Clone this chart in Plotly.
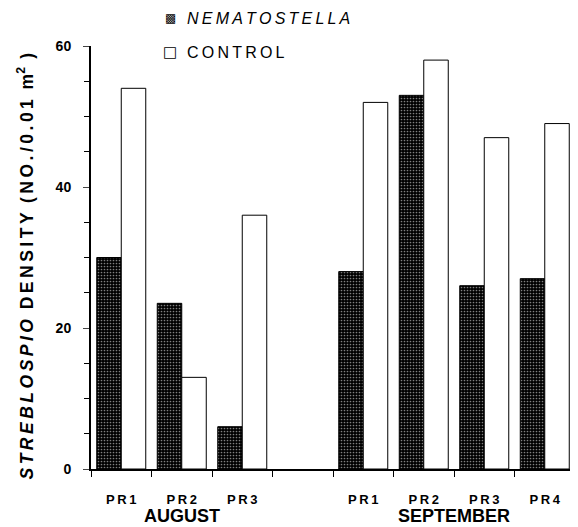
import plotly.graph_objects as go

# Data
site_labels = ["PR1", "PR2", "PR3", "", "PR1", "PR2", "PR3", "PR4"]
positions = [0, 1, 2, 3, 4, 5, 6, 7]
nematostella = [30, 23.5, 6, None, 28, 53, 26, 27]
control = [54, 13, 36, None, 52, 58, 47, 49]
months = ["AUGUST", "SEPTEMBER"]
month_centers = [1, 5.5]
y_ticks = [0, 20, 40, 60]

TS = "\u2009"  # thin space used as letter spacing


def spaced(s):
    return TS.join(list(s))


fig = go.Figure()
fig.add_trace(go.Bar(
    x=positions, y=nematostella, name="NEMATOSTELLA",
    marker=dict(color="black", line=dict(color="black", width=1),
                pattern=dict(shape=".", fgcolor="white", bgcolor="black",
                             size=3, solidity=0.25)),
    showlegend=False,
))
fig.add_trace(go.Bar(
    x=positions, y=control, name="CONTROL",
    marker=dict(color="white", line=dict(color="black", width=1)),
    showlegend=False,
))

fig.update_layout(
    width=570, height=519,
    margin=dict(l=83, r=3, t=38, b=58),
    paper_bgcolor="white", plot_bgcolor="white",
    barmode="group", bargap=0.19, bargroupgap=0,
    font=dict(family="Liberation Sans", color="black"),
)
tv = [p for p, l in zip(positions, site_labels) if l]
tt = [spaced(l) for l in site_labels if l]
fig.update_xaxes(
    range=[-0.5, 7.5], tickvals=tv, ticktext=tt,
    ticks="outside", ticklen=0, ticklabelstandoff=18, showgrid=False, zeroline=False,
    showline=True, linecolor="black", linewidth=1.5,
    tickfont=dict(size=13, family="Liberation Sans", color="black", weight="bold"),
    minor=dict(tick0=-0.5, dtick=1, ticks="outside", ticklen=6, tickcolor="black", tickwidth=1),
)
fig.update_yaxes(
    range=[0, 60], tickvals=y_ticks, ticks="outside", ticklen=6, ticklabelstandoff=9,
    showgrid=False, zeroline=False, showline=True, linecolor="black", linewidth=2,
    tickfont=dict(size=14, family="Liberation Sans", color="black", weight="bold"),
    minor=dict(dtick=5, ticks="outside", ticklen=5, tickcolor="black"),
)

for m, c in zip(months, month_centers):
    fig.add_annotation(x=c, y=0, xref="x", yref="paper", text=m, showarrow=False,
                       xanchor="center", yanchor="middle",
                       yshift=-47, font=dict(size=18, family="Liberation Sans", weight="bold"))

title = ("<i>" + spaced("STREBLOSPIO") + "</i>  " + spaced("DENSITY") + "  "
         + spaced("(NO./0.01") + "  m<sup>2</sup>" + TS + " )")
fig.add_annotation(x=0, y=0.5, xref="paper", yref="paper", xanchor="center", yanchor="middle",
                   xshift=-66, yshift=-9,
                   text=title, textangle=-90, showarrow=False,
                   font=dict(size=17.5, family="Liberation Sans", weight="bold"))

# legend (symbols + labels)
fig.add_annotation(x=0, y=1, xref="paper", yref="paper", xanchor="center", yanchor="middle",
                   xshift=79, yshift=28, text="▩", showarrow=False,
                   font=dict(size=12, family="DejaVu Sans"))
fig.add_annotation(x=0, y=1, xref="paper", yref="paper", xanchor="center", yanchor="middle",
                   xshift=79, yshift=-6, text="□", showarrow=False,
                   font=dict(size=15, family="DejaVu Sans"))
fig.add_annotation(x=0, y=1, xref="paper", yref="paper", xanchor="left", yanchor="middle",
                   xshift=94, yshift=28, text="<i>" + spaced("NEMATOSTELLA") + "</i>",
                   showarrow=False, font=dict(size=16, family="Liberation Sans"))
fig.add_annotation(x=0, y=1, xref="paper", yref="paper", xanchor="left", yanchor="middle",
                   xshift=94, yshift=-6, text=spaced("CONTROL"),
                   showarrow=False, font=dict(size=16, family="Liberation Sans"))

fig.write_html("out.html")
